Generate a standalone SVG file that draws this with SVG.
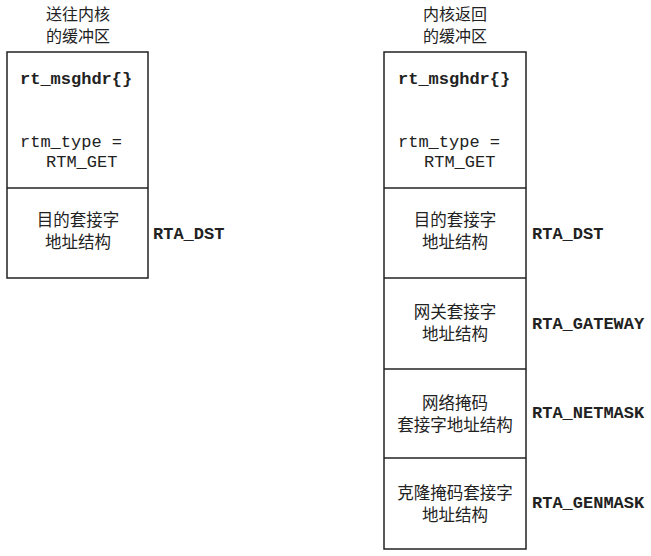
<svg xmlns="http://www.w3.org/2000/svg" width="651" height="556" viewBox="0 0 651 556">
<style>
.box{fill:#fff;stroke:#222;stroke-width:1.5}
.div{stroke:#222;stroke-width:1.5}
.cn{font-family:"Noto Sans CJK SC",sans-serif;font-size:16.5px;fill:#222;text-anchor:middle}
.ttl{font-family:"Noto Sans CJK SC",sans-serif;font-size:16px;fill:#222;text-anchor:middle}
.mono{font-family:"Liberation Mono","Courier New",monospace;font-size:17px;fill:#222}
.b{font-weight:bold}
.lbl{font-family:"Liberation Mono","Courier New",monospace;font-size:17px;fill:#222;font-weight:bold}
</style>
<rect width="651" height="556" fill="#fff"/>
<g id="left-buffer">
<text class="ttl" x="78" y="20">送往内核</text>
<text class="ttl" x="78" y="42">的缓冲区</text>
<rect class="box" x="7" y="52" width="141" height="226"/>
<line class="div" x1="7" y1="188" x2="148" y2="188"/>
<text class="mono b" x="20" y="84">rt_msghdr{}</text>
<text class="mono" x="20" y="147">rtm_type =</text>
<text class="mono" x="46" y="167">RTM_GET</text>
<text class="cn" x="78" y="226">目的套接字</text>
<text class="cn" x="78" y="248">地址结构</text>
<text class="lbl" x="153" y="239">RTA_DST</text>
</g>
<g id="right-buffer">
<text class="ttl" x="455" y="20">内核返回</text>
<text class="ttl" x="455" y="42">的缓冲区</text>
<rect class="box" x="384" y="52" width="142" height="497"/>
<line class="div" x1="384" y1="188" x2="526" y2="188"/>
<line class="div" x1="384" y1="278" x2="526" y2="278"/>
<line class="div" x1="384" y1="369" x2="526" y2="369"/>
<line class="div" x1="384" y1="458" x2="526" y2="458"/>
<text class="mono b" x="398" y="84">rt_msghdr{}</text>
<text class="mono" x="398" y="147">rtm_type =</text>
<text class="mono" x="424" y="167">RTM_GET</text>
<text class="cn" x="455" y="226">目的套接字</text>
<text class="cn" x="455" y="248">地址结构</text>
<text class="lbl" x="532" y="239">RTA_DST</text>
<text class="cn" x="455" y="318">网关套接字</text>
<text class="cn" x="455" y="340">地址结构</text>
<text class="lbl" x="532" y="329">RTA_GATEWAY</text>
<text class="cn" x="455" y="409">网络掩码</text>
<text class="cn" x="455" y="431">套接字地址结构</text>
<text class="lbl" x="532" y="418">RTA_NETMASK</text>
<text class="cn" x="455" y="499">克隆掩码套接字</text>
<text class="cn" x="455" y="521">地址结构</text>
<text class="lbl" x="532" y="508">RTA_GENMASK</text>
</g>
</svg>
